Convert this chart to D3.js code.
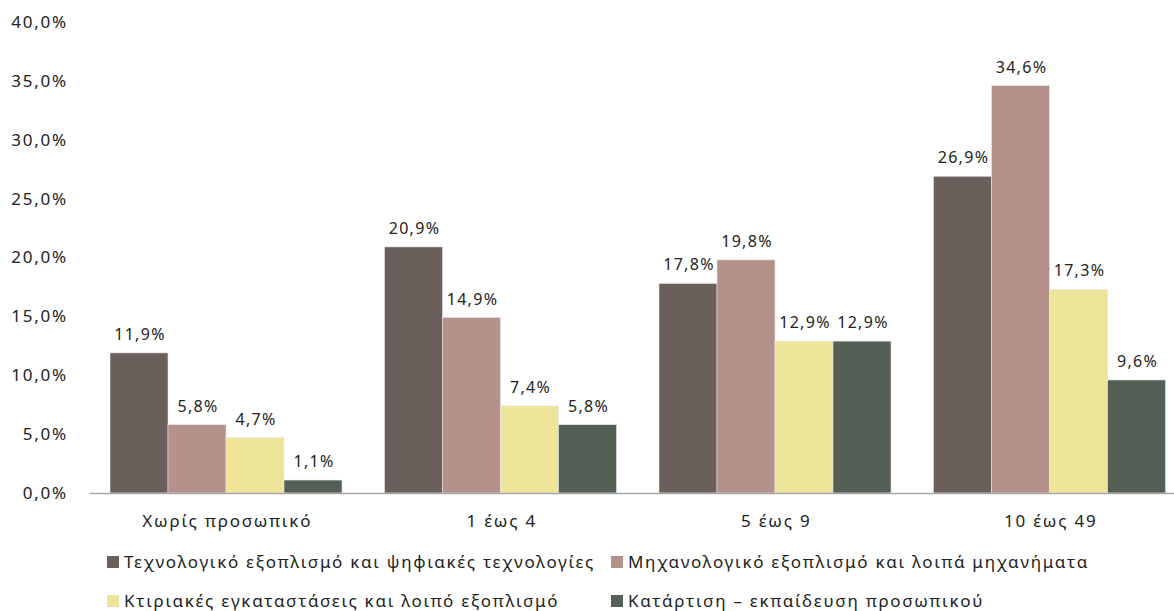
<!DOCTYPE html>
<html>
<head>
<meta charset="utf-8">
<script src="https://cdn.jsdelivr.net/npm/d3@7"></script>
<style>
  body { margin: 0; background: #fff; }
  text { font-family: "Noto Sans", sans-serif; fill: #222; letter-spacing: 1.8px; }
  text.val { letter-spacing: 1.3px; }
  text.leg { letter-spacing: 1.7px; }
</style>
</head>
<body>
<script>
const width = 1174;
const height = 611;

const categories = ["Χωρίς προσωπικό", "1 έως 4", "5 έως 9", "10 έως 49"];
const seriesNames = [
  "Τεχνολογικό εξοπλισμό και ψηφιακές τεχνολογίες",
  "Μηχανολογικό εξοπλισμό και λοιπά μηχανήματα",
  "Κτιριακές εγκαταστάσεις και λοιπό εξοπλισμό",
  "Κατάρτιση – εκπαίδευση προσωπικού"
];
const techValues = [11.9, 20.9, 17.8, 26.9];
const machValues = [5.8, 14.9, 19.8, 34.6];
const buildValues = [4.7, 7.4, 12.9, 17.3];
const trainValues = [1.1, 5.8, 12.9, 9.6];
const yTicks = [0, 5, 10, 15, 20, 25, 30, 35, 40];
const colors = ["#6b5f5c", "#b5918b", "#efe59a", "#545f55"];

const seriesValues = [techValues, machValues, buildValues, trainValues];
const fmt = v => v.toFixed(1).replace(".", ",") + "%";

const svg = d3.select("body")
  .append("svg")
  .attr("width", width)
  .attr("height", height);

const x0 = d3.scaleBand()
  .domain(categories)
  .range([89, 1187]);

const x1 = d3.scaleBand()
  .domain(d3.range(seriesNames.length))
  .range([21, 253]);

const y = d3.scaleLinear()
  .domain([0, 40])
  .range([493, 22]);

// y tick labels
svg.selectAll(".ytick")
  .data(yTicks)
  .enter()
  .append("text")
  .attr("class", "ytick")
  .attr("x", 68)
  .attr("y", d => y(d))
  .attr("dy", "0.35em")
  .attr("text-anchor", "end")
  .attr("font-size", 17)
  .text(d => d.toFixed(1).replace(".", ",") + "%");

// bars
const groups = svg.selectAll(".grp")
  .data(categories)
  .enter()
  .append("g")
  .attr("transform", d => `translate(${x0(d)},0)`);

groups.selectAll("rect")
  .data((d, ci) => seriesValues.map((vals, si) => ({ si, v: vals[ci] })))
  .enter()
  .append("rect")
  .attr("x", d => x1(d.si))
  .attr("y", d => y(d.v))
  .attr("width", x1.bandwidth())
  .attr("height", d => y(0) - y(d.v))
  .attr("fill", d => colors[d.si])
  .attr("stroke", "#e8e8e8")
  .attr("stroke-width", 0.6);

groups.selectAll(".val")
  .data((d, ci) => seriesValues.map((vals, si) => ({ si, v: vals[ci] })))
  .enter()
  .append("text")
  .attr("class", "val")
  .attr("x", d => x1(d.si) + x1.bandwidth() / 2 + 1)
  .attr("y", d => y(d.v) - 13)
  .attr("text-anchor", "middle")
  .attr("font-size", 16)
  .text(d => fmt(d.v));

// x axis line
svg.append("line")
  .attr("x1", 90)
  .attr("x2", width)
  .attr("y1", y(0) + 0.5)
  .attr("y2", y(0) + 0.5)
  .attr("stroke", "#a6a6a6")
  .attr("stroke-width", 1.5);

svg.selectAll(".cat")
  .data(categories)
  .enter()
  .append("text")
  .attr("x", d => x0(d) + x0.bandwidth() / 2 + 1)
  .attr("y", 527)
  .attr("text-anchor", "middle")
  .attr("font-size", 17)
  .text(d => d);

// legend
const legendPos = [[107, 562], [611, 562], [107, 601], [611, 601]];
const legend = svg.selectAll(".legend")
  .data(seriesNames)
  .enter()
  .append("g")
  .attr("transform", (d, i) => `translate(${legendPos[i][0]},${legendPos[i][1]})`);

legend.append("rect")
  .attr("x", 0)
  .attr("y", -6)
  .attr("width", 12)
  .attr("height", 12)
  .attr("fill", (d, i) => colors[i]);

legend.append("text")
  .attr("class", "leg")
  .attr("x", 17)
  .attr("y", 0)
  .attr("dy", "0.35em")
  .attr("font-size", 17)
  .text(d => d);
</script>
</body>
</html>
